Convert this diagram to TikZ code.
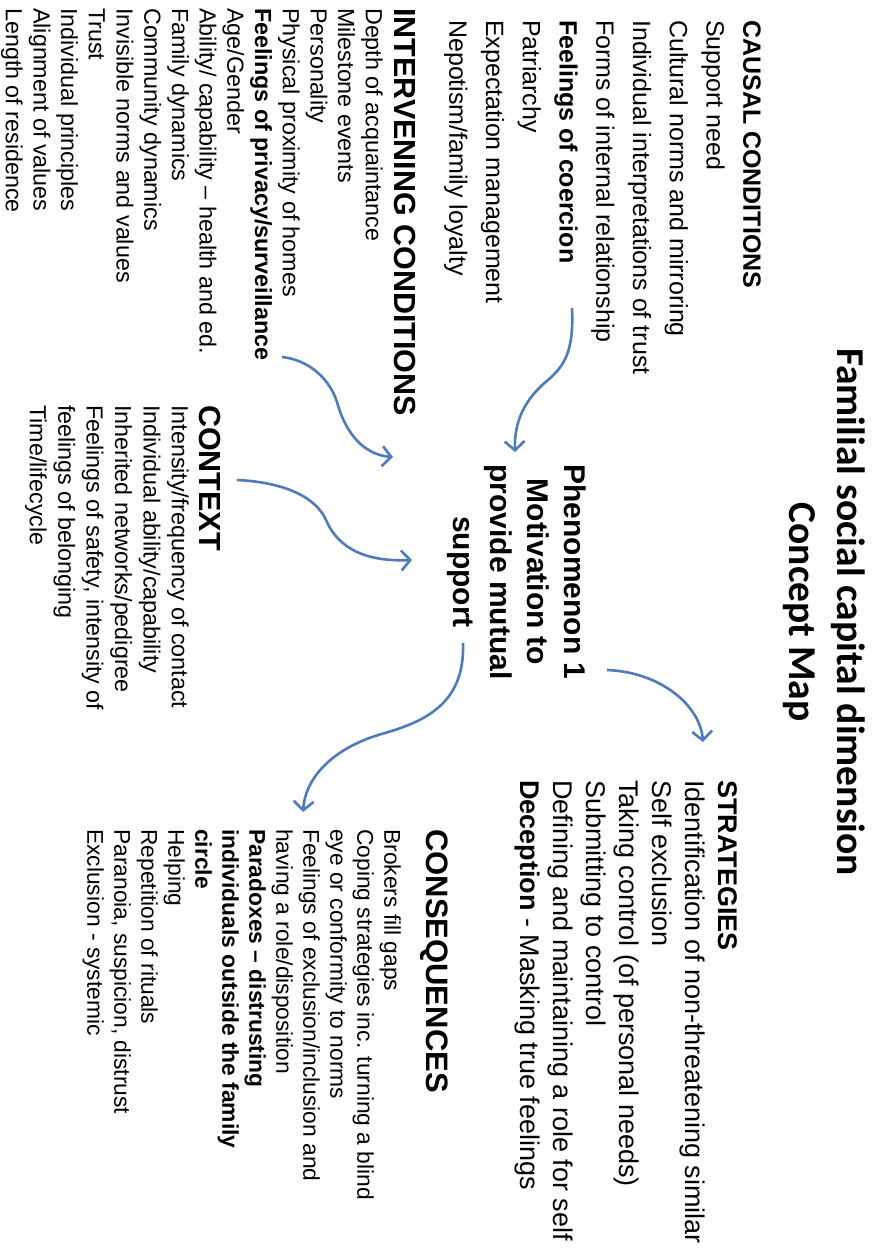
\documentclass[tikz,border=0pt]{standalone}
\usepackage{fontspec}
\setmainfont{Liberation Sans}
\newfontfamily\titlefont{Carlito}
\usepackage{tikz}
\usetikzlibrary{arrows.meta}
\definecolor{arrblue}{RGB}{79,123,187}

\begin{document}
\begin{tikzpicture}[x=1pt, y=1pt,
  every node/.style={inner sep=0pt},
  ttl/.style={font=\titlefont\bfseries\fontsize{39.5}{48}\selectfont, align=center, anchor=north},
  lst/.style={align=left, anchor=north west},
  big/.style={lst, font=\bfseries\fontsize{30.5}{36}\selectfont},
  itm/.style={lst, font=\fontsize{23.3}{27.7}\selectfont},
  phen/.style={font=\bfseries\fontsize{30}{36.7}\selectfont, align=center, anchor=north},
  arr/.style={draw=arrblue, line width=2.6pt, -{Straight Barb[length=9pt,width=20pt]}}
]
\useasboundingbox[fill=white] (0,0) rectangle (871,-1252);

% the map is laid out on its side
\begin{scope}[rotate=-90, transform shape]
\node[ttl] (title) at (612,865) {Familial social capital dimension\\Concept Map};
\node[lst, font=\fontsize{25}{36.75}\selectfont] (causal) at (20,761)
  {\textbf{CAUSAL CONDITIONS}\\Support need\\Cultural norms and mirroring\\
   Individual interpretations of trust\\Forms of internal relationship\\
   \textbf{Feelings of coercion}\\Patriarchy\\Expectation management\\Nepotism/family loyalty};
\node[big] (ihead) at (8,416) {INTERVENING CONDITIONS};
\node[itm] (ilist) at (8,383)
  {Depth of acquaintance\\Milestone events\\Personality\\Physical proximity of homes\\
   \textbf{Feelings of privacy/surveillance}\\Age/Gender\\Ability/ capability – health and ed.\\
   Family dynamics\\Community dynamics\\Invisible norms and values\\Trust\\
   Individual principles\\Alignment of values\\Length of residence};
\node[big] (chead) at (405,221) {CONTEXT};
\node[itm, font=\fontsize{23.3}{28.4}\selectfont] (clist) at (405,189)
  {Intensity/frequency of contact\\Individual ability/capability\\Inherited networks/pedigree\\
   Feelings of safety, intensity of\\feelings of belonging\\Time/lifecycle};
\node[phen] (phen) at (572,586) {Phenomenon 1\\Motivation to\\provide mutual\\support};
\node[lst, font=\fontsize{27}{33}\selectfont] (strat) at (780,738)
  {\textbf{STRATEGIES}\\Identification of non-threatening similar\\Self exclusion\\
   Taking control (of personal needs)\\Submitting to control\\
   Defining and maintaining a role for self\\\textbf{Deception} - Masking true feelings};
\node[big, font=\bfseries\fontsize{31}{36}\selectfont] (qhead) at (829,448) {CONSEQUENCES};
\node[itm, font=\fontsize{22.8}{27}\selectfont] (qlist) at (829,401)
  {Brokers fill gaps\\Coping strategies inc. turning a blind\\eye or conformity to norms\\
   Feelings of exclusion/inclusion and\\having a role/disposition\\
   \textbf{Paradoxes – distrusting}\\\textbf{individuals outside the family}\\\textbf{circle}\\
   Helping\\Repetition of rituals\\Paranoia, suspicion, distrust\\Exclusion - systemic};
\end{scope}

% arrow ends
\coordinate (a1s) at (572,-308); \coordinate (a1e) at (515,-452);
\coordinate (a2s) at (282,-357); \coordinate (a2e) at (393,-457);
\coordinate (a3s) at (237,-480); \coordinate (a3e) at (412,-560);
\coordinate (a4s) at (607,-670); \coordinate (a4e) at (703,-742);
\coordinate (a5s) at (463,-643); \coordinate (a5e) at (303,-812);

\draw[arr] (a1s) .. controls (574,-352) and (564,-366) .. (548,-380)
  .. controls (526,-398) and (514,-420) .. (a1e);
\draw[arr] (a2s) .. controls (310,-360) and (330,-380) .. (337,-402)
  .. controls (346,-435) and (365,-455) .. (a2e);
\draw[arr] (a3s) .. controls (280,-482) and (315,-495) .. (326,-520)
  .. controls (338,-548) and (365,-562) .. (a3e);
\draw[arr] (a4s) .. controls (660,-672) and (700,-705) .. (a4e);
\draw[arr] (a5s) .. controls (465,-700) and (430,-720) .. (385,-733)
  .. controls (330,-748) and (305,-780) .. (a5e);
\end{tikzpicture}
\end{document}
